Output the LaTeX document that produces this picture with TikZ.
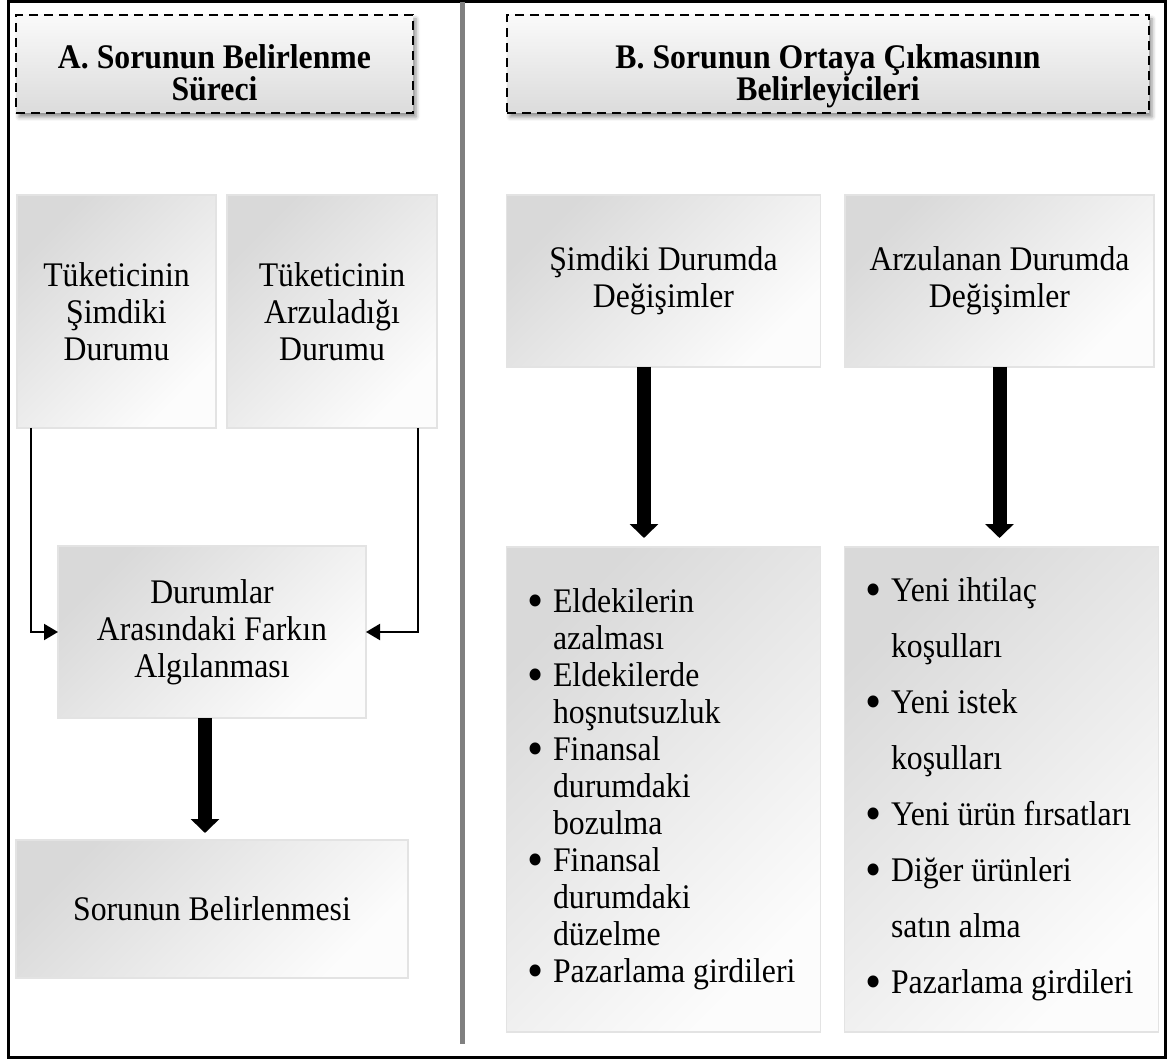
\documentclass[tikz,border=0pt]{standalone}
\usepackage{graphicx}
\usepackage{fontspec}
\setmainfont{Liberation Serif}[FakeStretch=0.92]
\usetikzlibrary{arrows.meta, positioning, shadows.blur}
\newcommand{\blt}{\makebox[21.5pt][l]{\hspace{-4pt}\raisebox{-5pt}{\scalebox{1.45}{\textbullet}}}}
\newcommand{\ind}{\makebox[21.5pt]{}}
\newcommand{\hdtop}{\rule{0pt}{49pt}}
\newcommand{\hdbot}{\rule[-7pt]{0pt}{7pt}}
\begin{document}
\begin{tikzpicture}[
    x=1pt, y=-1pt,
    stage/.style={draw=gray!22, line width=1.5pt, top color=gray!30, bottom color=gray!2,
      shading angle=45, inner sep=0pt, outer sep=0pt, align=center,
      font=\fontsize{34.5}{37}\selectfont},
    header/.style={draw=black, line width=2.2pt, dash pattern=on 9pt off 6pt,
      top color=gray!4, bottom color=gray!28, inner sep=0pt, align=center,
      minimum height=98pt, font=\bfseries\fontsize{34.5}{32}\selectfont,
      blur shadow={shadow xshift=3pt, shadow yshift=-4pt, shadow blur radius=4pt, shadow opacity=45}},
    flow/.style={-{Triangle[length=14pt, width=16pt]}, line width=2pt},
    bigflow/.style={-{Triangle[length=14pt, width=28pt]}, line width=14pt}
  ]
  \useasboundingbox (0,0) rectangle (1171,1059);
  \draw[line width=3pt] (8.5,2) rectangle (1165,1057);
  \draw[gray, line width=4.5pt] (462.5,2) -- (462.5,1044);

  \node[header, minimum width=397pt] (hA) at (214.5,64) {\hdtop A. Sorunun Belirlenme\\Süreci\hdbot};
  \node[header, minimum width=642pt] (hB) at (828,64) {\hdtop B. Sorunun Ortaya Çıkmasının\\Belirleyicileri\hdbot};

  \node[stage, minimum width=199pt, minimum height=233pt] (now) at (116.5,311.5) {Tüketicinin\\Şimdiki\\Durumu};
  \node[stage, minimum width=210pt, minimum height=233pt, right=11pt of now] (wish) {Tüketicinin\\Arzuladığı\\Durumu};
  \node[stage, minimum width=308pt, minimum height=172pt] (gap) at (212,632) {Durumlar\\Arasındaki Farkın\\Algılanması};
  \node[stage, minimum width=392pt, minimum height=138pt, below=122pt of gap] (rec) {Sorunun Belirlenmesi};

  \node[stage, minimum width=314pt, minimum height=172pt] (cnow) at (663.5,281) {Şimdiki Durumda\\Değişimler};
  \node[stage, minimum width=309pt, minimum height=172pt, right=24.5pt of cnow] (cwish) {Arzulanan Durumda\\Değişimler};
  \node[stage, align=left, minimum width=314pt, minimum height=485pt, below=180pt of cnow] (lnow)
    {\blt Eldekilerin\\\ind azalması\\\blt Eldekilerde\\\ind hoşnutsuzluk\\\blt Finansal\\\ind durumdaki\\\ind bozulma\\\blt Finansal\\\ind durumdaki\\\ind düzelme\\\blt Pazarlama girdileri};
  \node[stage, align=left, minimum width=314pt, minimum height=485pt, right=24pt of lnow,
    font=\fontsize{34.5}{56}\selectfont] (lwish)
    {\blt Yeni ihtilaç\\\ind koşulları\\\blt Yeni istek\\\ind koşulları\\\blt Yeni ürün fırsatları\\\blt Diğer ürünleri\\\ind satın alma\\\blt Pazarlama girdileri};

  \draw[flow] ([xshift=14pt]now.south west) |- (gap.west);
  \draw[flow] ([xshift=-19pt]wish.south east) |- (gap.east);
  \draw[bigflow, shorten >=7pt] ([xshift=-7pt]gap.south) -- ([xshift=-7pt]rec.north);
  \draw[bigflow, shorten >=9pt] ([xshift=-19.5pt]cnow.south) -- ([xshift=-19.5pt]lnow.north);
  \draw[bigflow, shorten >=9pt] (cwish.south) -- (cwish.south |- lwish.north);
\end{tikzpicture}
\end{document}
